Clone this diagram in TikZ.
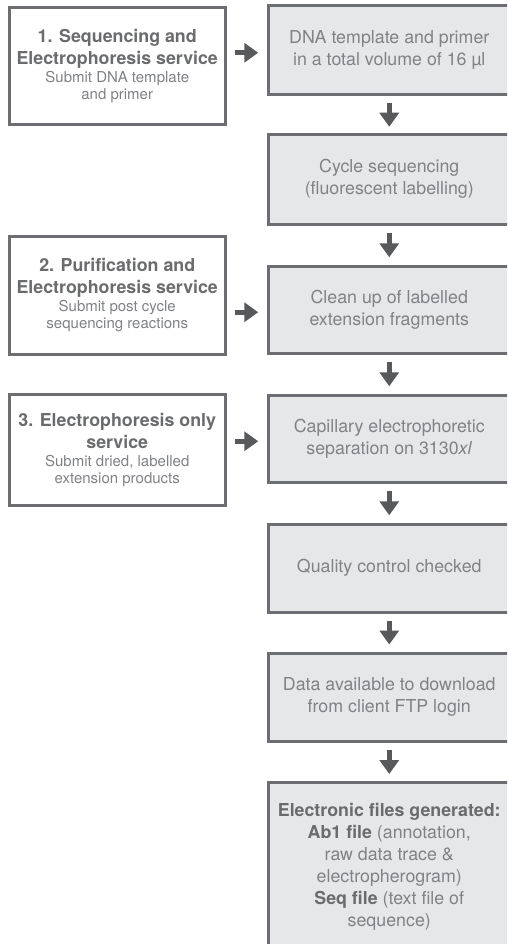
\documentclass[tikz,border=0pt]{standalone}
\usepackage{fontspec}
\setmainfont{TeX Gyre Heros}
\usetikzlibrary{arrows.meta,calc}
\definecolor{bordercol}{HTML}{6D6E71}
\definecolor{fillcol}{HTML}{E6E7E8}
\definecolor{boldcol}{HTML}{6A6B6D}
\definecolor{txtcol}{HTML}{808285}
\definecolor{arrowcol}{HTML}{58595B}
\newcommand{\mainf}{\fontsize{17.8}{22}\selectfont}
\newcommand{\smallf}{\fontsize{15}{17.5}\selectfont}
\newcommand{\hdline}[1]{{\bfseries\color{boldcol}#1}}
\newcommand{\subline}[1]{{\smallf #1}}
\begin{document}
\begin{tikzpicture}[x=1pt,y=-1pt,
  lbox/.style={draw=bordercol, line width=3pt, fill=white, minimum width=215.5pt,
    inner sep=0pt, align=center, font=\mainf, text=txtcol},
  rbox/.style={draw=bordercol, line width=3pt, fill=fillcol, minimum width=241.5pt,
    inner sep=0pt, align=center, font=\mainf, text=txtcol},
  arr/.style={draw=arrowcol, line width=5pt, -{Triangle[width=19pt,length=14pt]}},
]
\useasboundingbox (0,0) rectangle (507,944);
\clip (0,0) rectangle (507,944);

% left service boxes
\node[lbox, minimum height=117pt] (l1) at (117.25,66)
  {\hdline{1. Sequencing and}\\ \hdline{Electrophoresis service}\\[-4pt]
   \subline{Submit DNA template}\\[-4.5pt] \subline{and primer}};
\node[lbox, minimum height=117.5pt] (l2) at (117.25,295.25)
  {\hdline{2. Purification and}\\ \hdline{Electrophoresis service}\\[-4pt]
   \subline{Submit post cycle}\\[-4.5pt] \subline{sequencing reactions}};
\node[lbox, minimum height=111pt] (l3) at (117.25,450)
  {\hdline{3. Electrophoresis only}\\ \hdline{service}\\[-4pt]
   \subline{Submit dried, labelled}\\[-4.5pt] \subline{extension products}};

% right process boxes
\node[rbox, minimum height=89.5pt] (r1) at (389.25,50.25)
  {DNA template and primer\\ in a total volume of 16 µl};
\node[rbox, minimum height=89.5pt] (r2) at (389.25,179.25)
  {Cycle sequencing\\ (fluorescent labelling)};
\node[rbox, minimum height=86.5pt] (r3) at (389.25,309.75)
  {Clean up of labelled\\ extension fragments};
\node[rbox, minimum height=86.5pt] (r4) at (389.25,438.75)
  {Capillary electrophoretic\\ separation on 3130\textit{xl}};
\node[rbox, minimum height=87.5pt] (r5) at (389.25,568.25)
  {Quality control checked};
\node[rbox, minimum height=88.5pt] (r6) at (389.25,697.25)
  {Data available to download\\ from client FTP login};
\node[rbox, minimum height=168pt] (r7) at (389.25,866.5)
  {\hdline{Electronic files generated:}\\
   \hdline{Ab1 file} (annotation,\\ raw data trace \&\\ electropherogram)\\
   \hdline{Seq file} (text file of\\ sequence)};

% down arrows
\foreach \a/\b in {r1/r2,r2/r3,r3/r4,r4/r5,r5/r6,r6/r7}{
  \draw[arr] ($(\a.south)!.5!(\b.north)+(0,-12)$) -- ($(\a.south)!.5!(\b.north)+(0,12)$);
}
% right arrows
\foreach \a/\b in {l1/r1,l2/r3,l3/r4}{
  \draw[arr] ($(\a.east |- \b.west)!.5!(\b.west)+(-11.5,2.5)$) --
             ($(\a.east |- \b.west)!.5!(\b.west)+(11.5,2.5)$);
}
\end{tikzpicture}
\end{document}
